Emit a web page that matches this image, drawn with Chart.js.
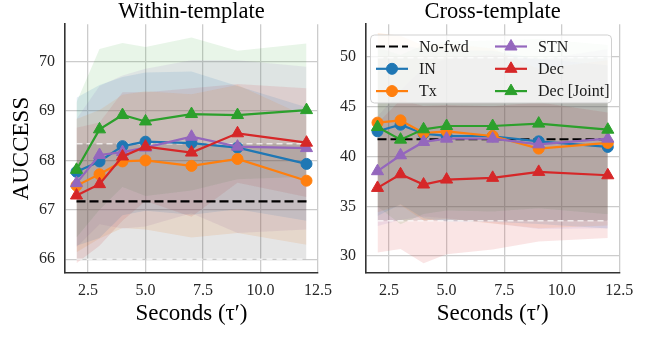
<!DOCTYPE html>
<html>
<head>
<meta charset="utf-8">
<script src="https://cdn.jsdelivr.net/npm/chart.js@4.4.1/dist/chart.umd.min.js"></script>
<style>
  html, body { margin: 0; padding: 0; background: #fff; }
  #quadro { position: relative; width: 647px; height: 339px; overflow: hidden; }
  #within { position: absolute; left: 0; top: 0; width: 340px; height: 339px; }
  #cross { position: absolute; left: 330px; top: 0; width: 317px; height: 339px; }
</style>
</head>
<body>
<div id="quadro">
  <canvas id="within" width="340" height="339"></canvas>
  <canvas id="cross" width="317" height="339"></canvas>
</div>
<script>
// eixo x comum
var segundos = [2, 3, 4, 5, 7, 9, 12];
var ticks_x = [2.5, 5, 7.5, 10, 12.5];
var ticks_within = [66, 67, 68, 69, 70];
var ticks_cross = [30, 35, 40, 45, 50];

var series = ["No-fwd", "IN", "Tx", "STN", "Dec", "Dec [Joint]"];

// Within-template: medias
var w_nofwd = [67.17, 67.17, 67.17, 67.17, 67.17, 67.17, 67.17];
var w_in    = [67.77, 67.98, 68.29, 68.38, 68.35, 68.26, 67.93];
var w_tx    = [67.49, 67.72, 67.98, 68.00, 67.89, 68.03, 67.59];
var w_stn   = [67.54, 68.11, 68.17, 68.26, 68.48, 68.28, 68.25];
var w_dec   = [67.29, 67.52, 68.08, 68.28, 68.16, 68.55, 68.36];
var w_joint = [67.81, 68.63, 68.92, 68.79, 68.94, 68.92, 69.02];
// Within-template: desvios (faixa sombreada)
var w_nofwd_sd = [1.17, 1.17, 1.17, 1.17, 1.17, 1.17, 1.17];
var w_in_sd    = [1.50, 1.55, 1.40, 1.40, 1.45, 1.25, 1.15];
var w_tx_sd    = [1.35, 1.30, 1.35, 1.40, 1.45, 1.50, 1.30];
var w_stn_sd   = [1.30, 1.40, 1.55, 1.60, 1.55, 1.75, 1.65];
var w_dec_sd   = [1.37, 1.25, 1.30, 1.10, 1.30, 1.00, 1.10];
var w_joint_sd = [1.37, 1.63, 1.46, 1.51, 1.55, 1.30, 1.35];

// Cross-template: medias
var c_nofwd = [41.74, 41.74, 41.74, 41.74, 41.74, 41.74, 41.74];
var c_in    = [42.54, 43.20, 42.30, 42.07, 42.04, 41.53, 40.97];
var c_tx    = [43.41, 43.64, 42.37, 42.54, 42.07, 40.80, 41.37];
var c_stn   = [38.53, 40.13, 41.47, 41.80, 41.80, 41.23, 41.80];
var c_dec   = [36.85, 38.22, 37.19, 37.69, 37.86, 38.46, 38.12];
var c_joint = [42.97, 41.70, 42.74, 43.07, 43.07, 43.31, 42.70];
// Cross-template: desvios
var c_nofwd_sd = [8.2, 8.2, 8.2, 8.2, 8.2, 8.2, 8.2];
var c_in_sd    = [8.5, 8.0, 8.5, 8.6, 8.6, 8.3, 8.2];
var c_tx_sd    = [9.0, 8.5, 8.8, 8.8, 8.8, 8.0, 8.3];
var c_stn_sd   = [5.5, 6.5, 7.5, 8.0, 8.5, 8.5, 9.0];
var c_dec_sd   = [6.5, 7.5, 7.9, 7.5, 7.2, 7.0, 6.3];
var c_joint_sd = [8.0, 8.5, 8.5, 8.5, 8.6, 8.5, 8.5];

var cores = ["#000000", "#1f77b4", "#ff7f0e", "#9467bd", "#d62728", "#2ca02c"];
var faixas = [
  "rgba(0, 0, 0, 0.1)",
  "rgba(31, 119, 180, 0.12)",
  "rgba(255, 127, 14, 0.12)",
  "rgba(148, 103, 189, 0.12)",
  "rgba(214, 39, 40, 0.12)",
  "rgba(44, 160, 44, 0.11)"
];
var marcadores = [false, "circle", "circle", "triangle", "triangle", "triangle"];
var raios = [0, 5.5, 5.5, 7, 7, 7];

var serif = "'Liberation Serif', 'DejaVu Serif', serif";

function pontos(vals) {
  return segundos.map(function (x, k) { return { x: x, y: vals[k] }; });
}

function montar_datasets(medias, desvios) {
  var ds = [];
  medias.forEach(function (m, i) {
    var sd = desvios[i];
    var borda = i === 0 ? "rgba(255, 255, 255, 0.7)" : "transparent";
    ds.push({
      data: pontos(m.map(function (v, k) { return v + sd[k]; })),
      fill: "+1", backgroundColor: faixas[i],
      borderColor: borda, borderWidth: 1.5, borderDash: [6, 4],
      pointRadius: 0, order: 20
    });
    ds.push({
      data: pontos(m.map(function (v, k) { return v - sd[k]; })),
      fill: false, borderColor: borda, borderWidth: 1.5, borderDash: [6, 4],
      pointRadius: 0, order: 20
    });
  });
  medias.forEach(function (m, i) {
    ds.push({
      label: series[i],
      data: pontos(m),
      fill: false,
      borderColor: cores[i],
      backgroundColor: cores[i],
      borderWidth: 2.2,
      borderDash: i === 0 ? [9, 4] : [],
      pointStyle: marcadores[i],
      pointRadius: raios[i],
      pointBorderWidth: 1,
      pointBorderColor: cores[i],
      pointBackgroundColor: cores[i],
      order: 10 - i
    });
  });
  return ds;
}

// titulo centrado sobre a area do grafico
var titulo_painel = {
  id: "titulo_painel",
  afterDraw: function (chart, args, opts) {
    var a = chart.chartArea, ctx = chart.ctx;
    ctx.save();
    ctx.font = "22.5px " + serif;
    ctx.fillStyle = "#000";
    ctx.textAlign = "center";
    ctx.textBaseline = "middle";
    ctx.fillText(opts.text, (a.left + a.right) / 2, 12.5);
    ctx.restore();
  }
};

function opcoes(titulo, ymin, ymax, ticks_y, largura_y, pad_dir, titulo_y) {
  return {
    responsive: false,
    animation: false,
    layout: { padding: { left: 0, right: pad_dir, top: 24.2, bottom: 0 } },
    plugins: {
      legend: { display: false },
      tooltip: { enabled: false },
      title: { display: false },
      filler: { drawTime: "beforeDatasetsDraw", propagate: false },
      titulo_painel: { text: titulo }
    },
    scales: {
      x: {
        type: "linear", min: 1.5, max: 12.5,
        afterBuildTicks: function (s) { s.ticks = ticks_x.map(function (v) { return { value: v }; }); },
        afterFit: function (s) { s.height = 66; },
        ticks: {
          callback: function (v) { return Number(v).toFixed(1); },
          font: { family: serif, size: 16 }, color: "#262626",
          padding: 8, maxRotation: 0, autoSkip: false
        },
        grid: { color: "#cccccc", lineWidth: 1.3, drawTicks: false },
        border: { color: "#333333", width: 1.6 },
        title: {
          display: true, text: "Seconds (τ′)", color: "#000",
          font: { family: serif, size: 23 }, padding: { top: 0, bottom: 11 }
        }
      },
      y: {
        min: ymin, max: ymax,
        afterBuildTicks: function (s) { s.ticks = ticks_y.map(function (v) { return { value: v }; }); },
        afterFit: function (s) { s.width = largura_y; },
        ticks: { font: { family: serif, size: 16 }, color: "#262626", padding: 10 },
        grid: { color: "#cccccc", lineWidth: 1.3, drawTicks: false },
        border: { color: "#333333", width: 1.6 },
        title: {
          display: !!titulo_y, text: titulo_y || "", color: "#000",
          font: { family: serif, size: 23 }, padding: { top: 8, bottom: 0 }
        }
      }
    }
  };
}

// legenda em duas colunas dentro do painel da direita
var legenda_cross = {
  id: "legenda_cross",
  afterDraw: function (chart) {
    var ctx = chart.ctx;
    ctx.save();
    ctx.beginPath();
    if (ctx.roundRect) ctx.roundRect(40.5, 35, 241, 68, 4);
    else ctx.rect(40.5, 35, 241, 68);
    ctx.fillStyle = "rgba(255, 255, 255, 0.8)";
    ctx.fill();
    ctx.strokeStyle = "rgba(204, 204, 204, 0.9)";
    ctx.lineWidth = 1;
    ctx.stroke();

    var linhas = chart.data.datasets.filter(function (d) { return d.label; });
    linhas.forEach(function (d, i) {
      var col = Math.floor(i / 3), lin = i % 3;
      var x0 = col === 0 ? 46 : 165;
      var y = 46.5 + lin * 22.3;
      ctx.strokeStyle = d.borderColor;
      ctx.fillStyle = d.borderColor;
      ctx.lineWidth = d.borderWidth;
      ctx.setLineDash(d.borderDash || []);
      ctx.beginPath();
      ctx.moveTo(x0, y);
      ctx.lineTo(x0 + 32, y);
      ctx.stroke();
      ctx.setLineDash([]);
      if (d.pointRadius > 0) {
        ctx.lineWidth = 1;
        Chart.helpers.drawPoint(ctx, { pointStyle: d.pointStyle, radius: d.pointRadius, borderWidth: 1, rotation: 0 }, x0 + 16, y);
      }
      ctx.fillStyle = "#1a1a1a";
      ctx.font = "16px " + serif;
      ctx.textBaseline = "middle";
      ctx.textAlign = "left";
      ctx.fillText(d.label, x0 + 43, y + 1);
    });
    ctx.restore();
  }
};

new Chart(document.getElementById("within"), {
  type: "line",
  data: {
    datasets: montar_datasets(
      [w_nofwd, w_in, w_tx, w_stn, w_dec, w_joint],
      [w_nofwd_sd, w_in_sd, w_tx_sd, w_stn_sd, w_dec_sd, w_joint_sd]
    )
  },
  options: opcoes("Within-template", 65.72, 70.76, ticks_within, 65, 21.7, "AUCCESS"),
  plugins: [titulo_painel]
});

new Chart(document.getElementById("cross"), {
  type: "line",
  data: {
    datasets: montar_datasets(
      [c_nofwd, c_in, c_tx, c_stn, c_dec, c_joint],
      [c_nofwd_sd, c_in_sd, c_tx_sd, c_stn_sd, c_dec_sd, c_joint_sd]
    )
  },
  options: opcoes("Cross-template", 28.3, 53.3, ticks_cross, 36, 27.7, null),
  plugins: [titulo_painel, legenda_cross]
});
</script>
</body>
</html>
